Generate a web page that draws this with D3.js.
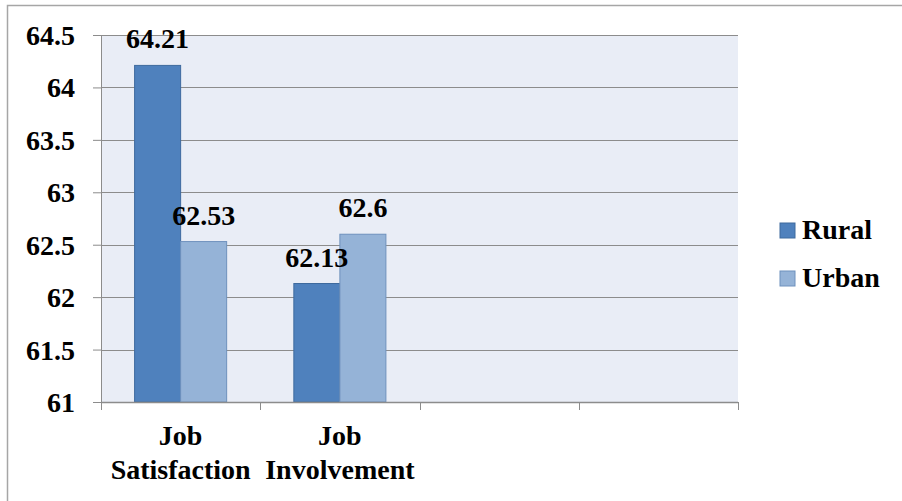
<!DOCTYPE html>
<html><head><meta charset="utf-8"><script src="https://cdn.jsdelivr.net/npm/d3@7"></script></head>
<body style="margin:0">
<svg width="902" height="501" font-family="Liberation Serif"></svg>
<script>
const categories = ['Job Satisfaction', 'Job Involvement', '', ' '];
const series = ['Rural', 'Urban'];
const rural = [64.21, 62.13];
const urban = [62.53, 62.6];
const yTicks = [61, 61.5, 62, 62.5, 63, 63.5, 64, 64.5];
const colors = ['#4F81BD', '#95B3D7'];
const strokes = ['#3E6A9E', '#6E91BD'];

const styleText = (sel) => sel
  .style('font-family', '"Liberation Serif"')
  .style('font-weight', 'bold')
  .style('font-size', '28px')
  .style('fill', '#000');

const svg = d3.select('svg');

// outer chart frame (clipped on right and bottom)
svg.append('rect')
  .attr('x', 7.5).attr('y', 5.5)
  .attr('width', 920).attr('height', 520)
  .attr('fill', 'none').attr('stroke', '#a6a6a6').attr('stroke-width', 1.5);

const pLeft = 101, pRight = 738, pTop = 35, pBottom = 402;

const x = d3.scaleBand().domain(categories).range([pLeft, pRight]);
const xInner = d3.scaleBand().domain(series).range([0, x.bandwidth()]).paddingOuter(0.73).paddingInner(0);
const y = d3.scaleLinear().domain([61, 64.5]).range([pBottom, pTop]);

svg.append('rect')
  .attr('x', pLeft).attr('y', pTop)
  .attr('width', pRight - pLeft).attr('height', pBottom - pTop)
  .attr('fill', '#E9EDF6');

// gridlines
svg.append('g')
  .selectAll('line')
  .data(yTicks)
  .enter()
  .append('line')
  .attr('x1', pLeft).attr('x2', pRight)
  .attr('y1', (d) => Math.round(y(d)) + 0.5).attr('y2', (d) => Math.round(y(d)) + 0.5)
  .attr('stroke', '#8c8c8c').attr('stroke-width', 1);

// bars
const rows = categories.slice(0, 2).map((c, i) => ({ cat: c, vals: [rural[i], urban[i]] }));
const groups = svg.append('g')
  .selectAll('g')
  .data(rows)
  .enter()
  .append('g')
  .attr('transform', (d) => `translate(${x(d.cat)},0)`);

groups.selectAll('rect')
  .data((d) => d.vals.map((v, j) => ({ s: series[j], v, j })))
  .enter()
  .append('rect')
  .attr('x', (d) => xInner(d.s))
  .attr('width', xInner.bandwidth())
  .attr('y', (d) => y(d.v))
  .attr('height', (d) => y(61) - y(d.v))
  .attr('fill', (d) => colors[d.j])
  .attr('stroke', (d) => strokes[d.j])
  .attr('stroke-width', 1);

groups.selectAll('text')
  .data((d) => d.vals.map((v, j) => ({ s: series[j], v, j })))
  .enter()
  .append('text')
  .attr('x', (d) => xInner(d.s) + xInner.bandwidth() / 2)
  .attr('y', (d) => y(d.v) - 17)
  .attr('text-anchor', 'middle')
  .call(styleText)
  .text((d) => d.v);

// y axis
const yAxis = d3.axisLeft(y).tickValues(yTicks).tickSize(8).tickPadding(18)
  .tickFormat((d) => d3.format('')(d));
const yg = svg.append('g').attr('transform', `translate(${pLeft},0)`).call(yAxis)
  .attr('font-family', null).attr('font-size', null);
yg.select('.domain').attr('stroke', '#8c8c8c').attr('d', `M0.5,${pTop}V${pBottom}`);
yg.selectAll('.tick line').attr('stroke', '#8c8c8c');
yg.selectAll('.tick text').attr('dy', '0.34em').call(styleText);

// x axis
const xAxis = d3.axisBottom(x).tickSize(0).tickFormat('');
const xg = svg.append('g').attr('transform', `translate(0,${pBottom})`).call(xAxis)
  .attr('font-family', null).attr('font-size', null);
xg.select('.domain').attr('stroke', '#8c8c8c').attr('stroke-width', 1.5).attr('d', `M${pLeft},0.5H${pRight}`);
const bounds = categories.map((c) => x(c)).concat([pRight]);
xg.selectAll('.bound')
  .data(bounds)
  .enter()
  .append('line')
  .attr('x1', (d) => Math.round(d) + 0.5).attr('x2', (d) => Math.round(d) + 0.5)
  .attr('y1', 0).attr('y2', 8)
  .attr('stroke', '#8c8c8c');

xg.selectAll('.tick').each(function (d) {
  if (!d.trim()) return;
  const words = d.split(' ');
  const t = d3.select(this).select('text')
    .attr('y', 0).attr('dy', null).call(styleText);
  t.selectAll('tspan')
    .data(words)
    .enter()
    .append('tspan')
    .attr('x', 0)
    .attr('y', (w, i) => 43 + i * 34)
    .text((w) => w);
});

// legend
const legend = svg.append('g')
  .selectAll('g')
  .data(series)
  .enter()
  .append('g')
  .attr('transform', (d, i) => `translate(780,${223 + i * 48})`);
legend.append('rect')
  .attr('width', 15).attr('height', 15)
  .attr('fill', (d, i) => colors[i])
  .attr('stroke', (d, i) => strokes[i]);
legend.append('text')
  .attr('x', 22).attr('y', 15.5)
  .call(styleText)
  .text((d) => d);
</script>
</body>
</html>
